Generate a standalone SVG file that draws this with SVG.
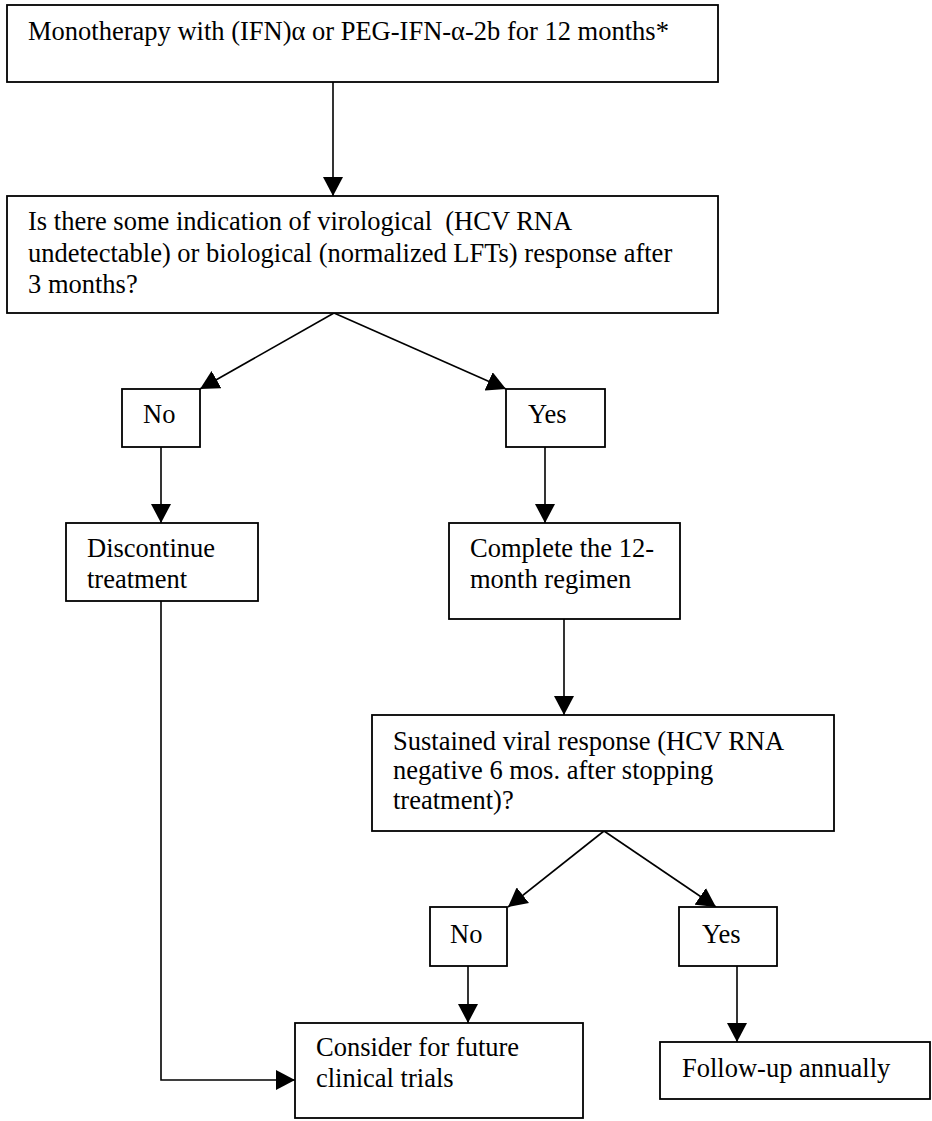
<svg xmlns="http://www.w3.org/2000/svg" width="932" height="1121" viewBox="0 0 932 1121">
<style>
.box{fill:#fff;stroke:#000;stroke-width:1.8}
.t{font-family:"Liberation Serif","Times New Roman",serif;font-size:26.5px;fill:#000}
.c{fill:none;stroke:#000;stroke-width:1.6}
</style>
<defs>
<marker id="ah" markerUnits="userSpaceOnUse" markerWidth="20" markerHeight="20" refX="19" refY="10" orient="auto" viewBox="0 0 20 20">
<path d="M0,0 L19,10 L0,20 z" fill="#000"/>
</marker>
</defs>
<rect width="932" height="1121" fill="#fff"/>
<g id="connectors">
<line class="c" x1="333" y1="82" x2="333" y2="196" marker-end="url(#ah)"/>
<line class="c" x1="334" y1="313" x2="200" y2="389" marker-end="url(#ah)"/>
<line class="c" x1="334" y1="313" x2="506" y2="389" marker-end="url(#ah)"/>
<line class="c" x1="161" y1="447" x2="161" y2="523" marker-end="url(#ah)"/>
<line class="c" x1="545" y1="447" x2="545" y2="523" marker-end="url(#ah)"/>
<line class="c" x1="564" y1="619" x2="564" y2="715" marker-end="url(#ah)"/>
<line class="c" x1="604" y1="831" x2="508" y2="907" marker-end="url(#ah)"/>
<line class="c" x1="604" y1="831" x2="716" y2="907" marker-end="url(#ah)"/>
<line class="c" x1="468" y1="966" x2="468" y2="1023" marker-end="url(#ah)"/>
<line class="c" x1="737" y1="966" x2="737" y2="1042" marker-end="url(#ah)"/>
<polyline class="c" points="161,601 161,1080 295,1080" marker-end="url(#ah)"/>
</g>
<g id="n1"><rect class="box" x="7" y="5" width="711" height="77"/>
<text class="t" x="28" y="40">Monotherapy with (IFN)α or PEG-IFN-α-2b for 12 months*</text></g>
<g id="n2"><rect class="box" x="7" y="196" width="711" height="117"/>
<text class="t" x="28" y="230">Is there some indication of virological &#160;(HCV RNA</text>
<text class="t" x="28" y="262">undetectable) or biological (normalized LFTs) response after</text>
<text class="t" x="28" y="293">3 months?</text></g>
<g id="n3"><rect class="box" x="122" y="389" width="78" height="58"/>
<text class="t" x="143" y="423">No</text></g>
<g id="n4"><rect class="box" x="506" y="389" width="99" height="58"/>
<text class="t" x="528" y="423">Yes</text></g>
<g id="n5"><rect class="box" x="66" y="523" width="192" height="78"/>
<text class="t" x="87" y="557">Discontinue</text>
<text class="t" x="87" y="588">treatment</text></g>
<g id="n6"><rect class="box" x="449" y="523" width="231" height="96"/>
<text class="t" x="470" y="557">Complete the 12-</text>
<text class="t" x="470" y="588">month regimen</text></g>
<g id="n7"><rect class="box" x="372" y="715" width="462" height="116"/>
<text class="t" x="393" y="750">Sustained viral response (HCV RNA</text>
<text class="t" x="393" y="779">negative 6 mos. after stopping</text>
<text class="t" x="393" y="809">treatment)?</text></g>
<g id="n8"><rect class="box" x="430" y="907" width="77" height="59"/>
<text class="t" x="450" y="943">No</text></g>
<g id="n9"><rect class="box" x="679" y="907" width="98" height="59"/>
<text class="t" x="702" y="943">Yes</text></g>
<g id="n10"><rect class="box" x="295" y="1023" width="288" height="95"/>
<text class="t" x="316" y="1056">Consider for future</text>
<text class="t" x="316" y="1087">clinical trials</text></g>
<g id="n11"><rect class="box" x="660" y="1042" width="270" height="57"/>
<text class="t" x="682" y="1077">Follow-up annually</text></g>
</svg>
